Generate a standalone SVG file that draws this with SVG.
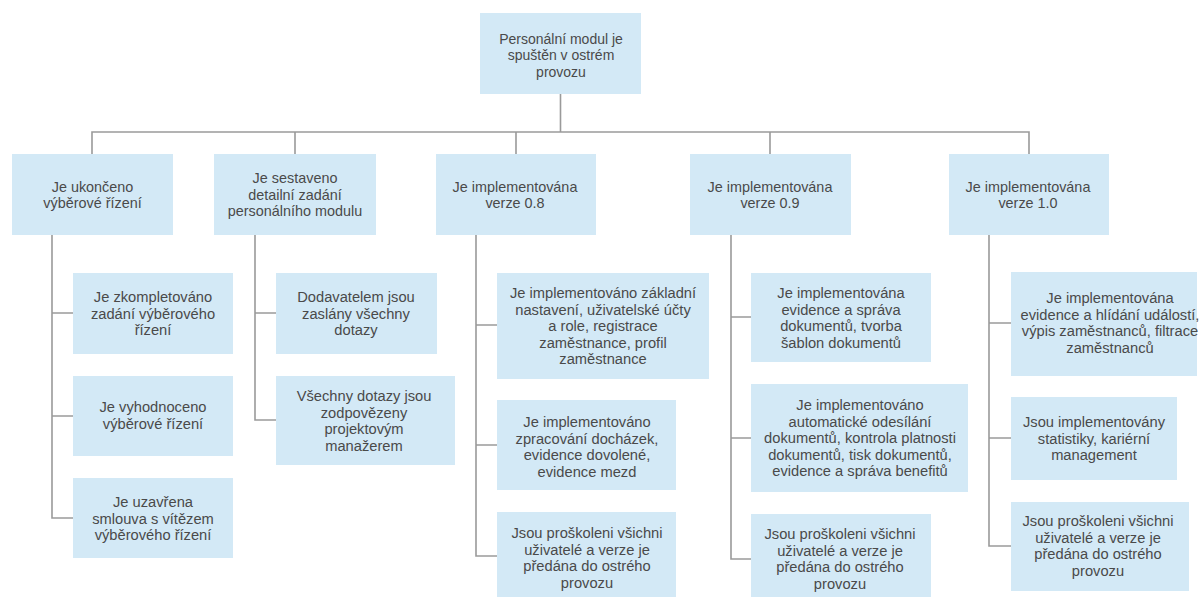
<svg xmlns="http://www.w3.org/2000/svg" width="1202" height="597" viewBox="0 0 1202 597">
<style>
.box{fill:#d3e9f6;}
.t{font-family:"Liberation Sans",Arial,sans-serif;font-size:14.7px;fill:#4a4a4a;text-anchor:middle;}
.t1{font-size:14.4px;}
.t0{font-size:14px;}
.c{fill:none;stroke:#9a9a9a;stroke-width:1.6;}
</style>
<rect width="1202" height="597" fill="#ffffff"/>
<g id="connectors">
<path class="c" d="M560.5 94 V132 M92 154 V132 H1029 V154 M295 132 V154 M516 132 V154 M770 132 V154"/>
<path class="c" d="M52 235 V518 H73 M52 313 H73 M52 416 H73"/>
<path class="c" d="M255 235 V420 H276 M255 313 H276"/>
<path class="c" d="M476 235 V556 H497 M476 325 H497 M476 445 H497"/>
<path class="c" d="M731 235 V559 H751 M731 317 H751 M731 438 H751"/>
<path class="c" d="M989 235 V546 H1011 M989 323 H1011 M989 438 H1011"/>
</g>
<g id="root">
<rect class="box" x="480" y="13" width="161" height="81"/>
<text class="t t0"><tspan x="561" y="43.5">Personální modul je</tspan><tspan x="561" y="60">spuštěn v ostrém</tspan><tspan x="561" y="76.5">provozu</tspan></text>
</g>
<g id="n-a">
<rect class="box" x="12" y="154" width="161" height="81"/>
<text class="t t1"><tspan x="92.5" y="191.5">Je ukončeno</tspan><tspan x="92.5" y="208">výběrové řízení</tspan></text>
</g>
<g id="n-b">
<rect class="box" x="214" y="154" width="162" height="81"/>
<text class="t t1"><tspan x="295" y="183">Je sestaveno</tspan><tspan x="295" y="199.5">detailní zadání</tspan><tspan x="295" y="216">personálního modulu</tspan></text>
</g>
<g id="n-c">
<rect class="box" x="436" y="154" width="160" height="81"/>
<text class="t t1"><tspan x="515" y="191.5">Je implementována</tspan><tspan x="515" y="208">verze 0.8</tspan></text>
</g>
<g id="n-d">
<rect class="box" x="690" y="154" width="161" height="81"/>
<text class="t t1"><tspan x="770" y="191.5">Je implementována</tspan><tspan x="770" y="208">verze 0.9</tspan></text>
</g>
<g id="n-e">
<rect class="box" x="949" y="154" width="160" height="81"/>
<text class="t t1"><tspan x="1028" y="191.5">Je implementována</tspan><tspan x="1028" y="208">verze 1.0</tspan></text>
</g>
<g id="n-a1">
<rect class="box" x="73" y="273" width="160" height="81"/>
<text class="t"><tspan x="153" y="302">Je zkompletováno</tspan><tspan x="153" y="318.5">zadání výběrového</tspan><tspan x="153" y="335">řízení</tspan></text>
</g>
<g id="n-a2">
<rect class="box" x="73" y="376" width="160" height="80"/>
<text class="t"><tspan x="153" y="412">Je vyhodnoceno</tspan><tspan x="153" y="428.5">výběrové řízení</tspan></text>
</g>
<g id="n-a3">
<rect class="box" x="73" y="478" width="160" height="80"/>
<text class="t"><tspan x="153" y="507">Je uzavřena</tspan><tspan x="153" y="523.5">smlouva s vítězem</tspan><tspan x="153" y="540">výběrového řízení</tspan></text>
</g>
<g id="n-b1">
<rect class="box" x="276" y="273" width="161" height="81"/>
<text class="t"><tspan x="356" y="302">Dodavatelem jsou</tspan><tspan x="356" y="318.5">zaslány všechny</tspan><tspan x="356" y="335">dotazy</tspan></text>
</g>
<g id="n-b2">
<rect class="box" x="276" y="376" width="179" height="89"/>
<text class="t"><tspan x="364" y="401">Všechny dotazy jsou</tspan><tspan x="364" y="417.5">zodpovězeny</tspan><tspan x="364" y="434">projektovým</tspan><tspan x="364" y="450.5">manažerem</tspan></text>
</g>
<g id="n-c1">
<rect class="box" x="497" y="273" width="212" height="106"/>
<text class="t"><tspan x="603" y="298">Je implementováno základní</tspan><tspan x="603" y="314.5">nastavení, uživatelské účty</tspan><tspan x="603" y="331">a role, registrace</tspan><tspan x="603" y="347.5">zaměstnance, profil</tspan><tspan x="603" y="364">zaměstnance</tspan></text>
</g>
<g id="n-c2">
<rect class="box" x="497" y="400" width="179" height="90"/>
<text class="t"><tspan x="587" y="427">Je implementováno</tspan><tspan x="587" y="443.5">zpracování docházek,</tspan><tspan x="587" y="460">evidence dovolené,</tspan><tspan x="587" y="476.5">evidence mezd</tspan></text>
</g>
<g id="n-c3">
<rect class="box" x="497" y="512" width="179" height="88"/>
<text class="t"><tspan x="587" y="538">Jsou proškoleni všichni</tspan><tspan x="587" y="554.5">uživatelé a verze je</tspan><tspan x="587" y="571">předána do ostrého</tspan><tspan x="587" y="587.5">provozu</tspan></text>
</g>
<g id="n-d1">
<rect class="box" x="751" y="273" width="180" height="89"/>
<text class="t"><tspan x="841" y="298">Je implementována</tspan><tspan x="841" y="314.5">evidence a správa</tspan><tspan x="841" y="331">dokumentů, tvorba</tspan><tspan x="841" y="347.5">šablon dokumentů</tspan></text>
</g>
<g id="n-d2">
<rect class="box" x="751" y="384" width="217" height="108"/>
<text class="t"><tspan x="860" y="410">Je implementováno</tspan><tspan x="860" y="426.5">automatické odesílání</tspan><tspan x="860" y="443">dokumentů, kontrola platnosti</tspan><tspan x="860" y="459.5">dokumentů, tisk dokumentů,</tspan><tspan x="860" y="476">evidence a správa benefitů</tspan></text>
</g>
<g id="n-d3">
<rect class="box" x="751" y="514" width="180" height="86"/>
<text class="t"><tspan x="840" y="539">Jsou proškoleni všichni</tspan><tspan x="840" y="555.5">uživatelé a verze je</tspan><tspan x="840" y="572">předána do ostrého</tspan><tspan x="840" y="588.5">provozu</tspan></text>
</g>
<g id="n-e1">
<rect class="box" x="1011" y="272" width="186" height="104"/>
<text class="t"><tspan x="1110" y="303">Je implementována</tspan><tspan x="1110" y="319.5">evidence a hlídání událostí,</tspan><tspan x="1110" y="336">výpis zaměstnanců, filtrace</tspan><tspan x="1110" y="352.5">zaměstnanců</tspan></text>
</g>
<g id="n-e2">
<rect class="box" x="1011" y="397" width="166" height="83"/>
<text class="t"><tspan x="1094" y="427">Jsou implementovány</tspan><tspan x="1094" y="443.5">statistiky, kariérní</tspan><tspan x="1094" y="460">management</tspan></text>
</g>
<g id="n-e3">
<rect class="box" x="1011" y="502" width="178" height="89"/>
<text class="t"><tspan x="1098" y="526">Jsou proškoleni všichni</tspan><tspan x="1098" y="542.5">uživatelé a verze je</tspan><tspan x="1098" y="559">předána do ostrého</tspan><tspan x="1098" y="575.5">provozu</tspan></text>
</g>
</svg>
